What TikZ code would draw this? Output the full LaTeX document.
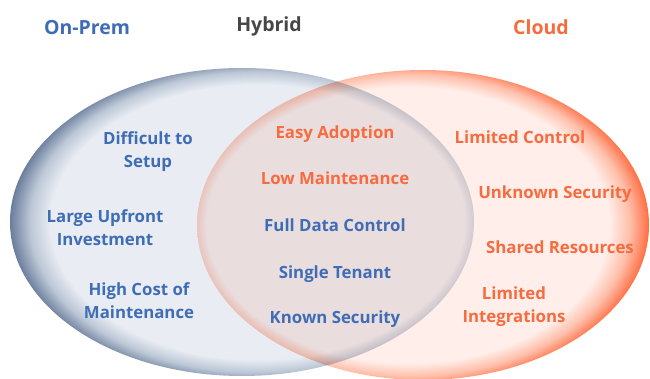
\documentclass[tikz,border=0pt]{standalone}
\usepackage{fontspec}
\setmainfont{Open Sans}
\definecolor{lin}{HTML}{E9EDF3}
\definecolor{lmid}{HTML}{BCC7D6}
\definecolor{ledge}{HTML}{6A7D9C}
\definecolor{rin}{HTML}{FFEEE9}
\definecolor{rmid}{HTML}{FFBFAA}
\definecolor{redge}{HTML}{FF6E43}
\definecolor{txtblue}{HTML}{3F6DB5}
\definecolor{txtorange}{HTML}{F86B3F}
\definecolor{txtgrey}{HTML}{474747}
\pgfdeclareradialshading{lshade}{\pgfpoint{3bp}{0bp}}{color(0bp)=(lin); color(22.3bp)=(lin); color(24.4bp)=(lmid); color(26.4bp)=(ledge); color(50bp)=(ledge)}
\pgfdeclareradialshading{rshade}{\pgfpoint{-3bp}{0bp}}{color(0bp)=(rin); color(22.3bp)=(rin); color(24.4bp)=(rmid); color(26.4bp)=(redge); color(50bp)=(redge)}
\tikzset{
  lbl/.style={font=\fontsize{16.8}{23}\selectfont\bfseries, align=center, inner sep=0pt},
  ttl/.style={font=\fontsize{19.5}{24}\selectfont\bfseries, inner sep=0pt, anchor=base},
  one/.style={lbl, anchor=base},
  two/.style={lbl, anchor=north},
}
\begin{document}
\begin{tikzpicture}[x=1pt,y=-1pt]
\useasboundingbox (0,0) rectangle (650,379);
\fill[white] (0,0) rectangle (650,379);
% circles
\shade[shading=lshade] (242,222) ellipse [x radius=232, y radius=154];
\begin{scope}[blend mode=multiply]
\shade[shading=rshade] (423,225) ellipse [x radius=226, y radius=155];
\end{scope}
% titles
\node[ttl, text=txtblue] (onprem) at (87,35) {On-Prem};
\node[ttl, text=txtgrey] (hybrid) at (269,32) {Hybrid};
\node[ttl, text=txtorange] (cloud) at (541,35) {Cloud};
% on-prem
\node[two, text=txtblue] (l1) at (148,131.2) {Difficult to\\Setup};
\node[two, text=txtblue] (l2) at (105,209.2) {Large Upfront\\Investment};
\node[two, text=txtblue] (l3) at (139,282.2) {High Cost of\\Maintenance};
% hybrid
\node[one, text=txtorange] (h1) at (335,139) {Easy Adoption};
\node[one, text=txtorange] (h2) at (335,185) {Low Maintenance};
\node[one, text=txtblue] (h3) at (335,232) {Full Data Control};
\node[one, text=txtblue] (h4) at (335,278) {Single Tenant};
\node[one, text=txtblue] (h5) at (335,323) {Known Security};
% cloud
\node[one, text=txtorange] (c1) at (520,144) {Limited Control};
\node[one, text=txtorange] (c2) at (555,199) {Unknown Security};
\node[one, text=txtorange] (c3) at (560,254) {Shared Resources};
\node[two, text=txtorange] (c4) at (514,286.2) {Limited\\Integrations};
\end{tikzpicture}
\end{document}
